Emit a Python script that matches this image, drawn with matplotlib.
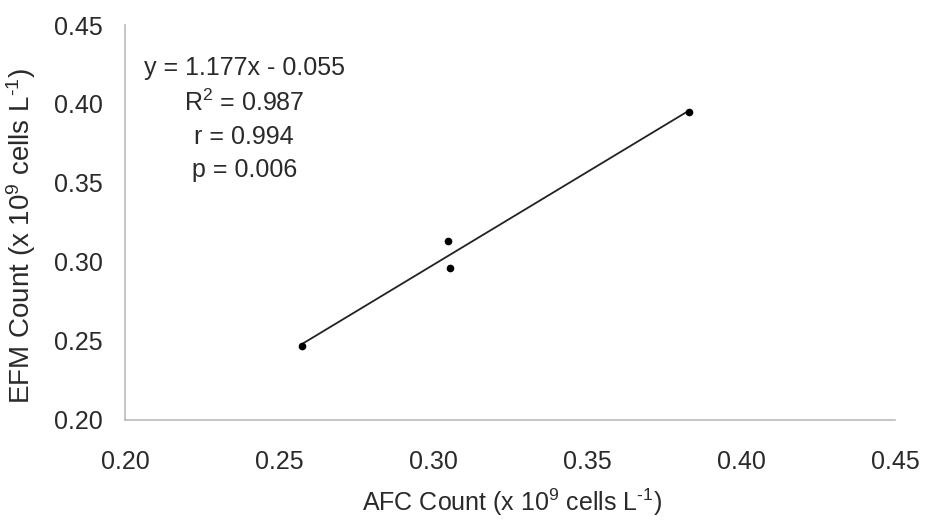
import numpy as np
import matplotlib.pyplot as plt

plt.rcParams['font.family'] = ['Liberation Sans', 'DejaVu Sans']
plt.rcParams['mathtext.fontset'] = 'custom'
plt.rcParams['mathtext.rm'] = 'Liberation Sans'
plt.rcParams['mathtext.default'] = 'regular'

# data
afc = [0.2575, 0.305, 0.3055, 0.383]
efm = [0.247, 0.313, 0.296, 0.395]
slope, intercept = 1.177, -0.055
stats_text = "y = 1.177x - 0.055\nR$^2$ = 0.987\nr = 0.994\np = 0.006"
ticks = [0.20, 0.25, 0.30, 0.35, 0.40, 0.45]

fs = 18
fig = plt.figure(figsize=(9.25, 5.21), dpi=100)
ax = fig.add_axes([0.135, 0.194, 0.833, 0.758])

xl = np.array([min(afc), max(afc)])
ax.plot(xl, slope * xl + intercept, color='#222222', linewidth=1.3)
ax.plot(afc, efm, 'o', color='black', markersize=4.5)

ax.set_xlim(0.20, 0.45)
ax.set_ylim(0.20, 0.45)
ax.set_xticks(ticks)
ax.set_yticks(ticks)
ax.set_xticklabels([f"{t:.2f}" for t in ticks])
ax.set_yticklabels([f"{t:.2f}" for t in ticks])
ax.tick_params(length=0, labelsize=fs, colors='#2a2a2a')
ax.tick_params(axis='x', pad=22)
ax.tick_params(axis='y', pad=16)

for s in ['top', 'right']:
    ax.spines[s].set_visible(False)
for s in ['left', 'bottom']:
    ax.spines[s].set_color('#bbbbbb')
    ax.spines[s].set_linewidth(1.2)

ax.set_xlabel("AFC Count (x 10$^9$ cells L$^{\u2010 1}$)", fontsize=18, color='#2a2a2a')
ax.set_ylabel("EFM Count (x 10$^9$ cells L$^{\u2010 1}$)", fontsize=20, color='#2a2a2a')
ax.xaxis.set_label_coords(0.503, -0.17)
ax.yaxis.set_label_coords(-0.113, 0.466)

ax.text(0.155, 0.762, stats_text, transform=ax.transAxes, ha='center', va='center',
        fontsize=fs, color='#2a2a2a', linespacing=1.45)

fig.savefig('out.png', dpi=100)
